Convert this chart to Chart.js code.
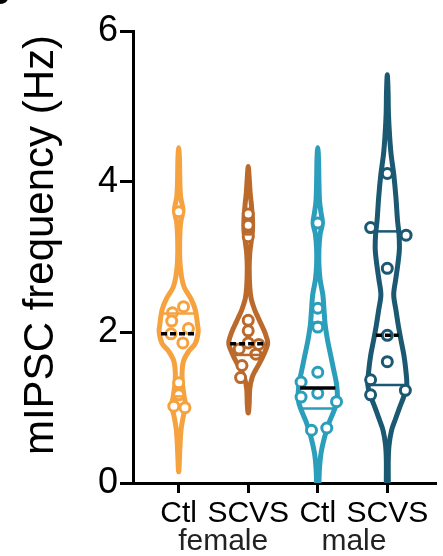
<!DOCTYPE html>
<html>
<head>
<meta charset="utf-8">
<script src="https://cdn.jsdelivr.net/npm/chart.js@4/dist/chart.umd.min.js"></script>
<style>
  html, body { margin: 0; padding: 0; background: #fff; }
  #wrap { width: 443px; height: 556px; position: relative; }
</style>
</head>
<body>
<div id="wrap"><canvas id="c" width="443" height="556"></canvas></div>
<script>
// ---- data ----
const groups = ['Ctl', 'SCVS', 'Ctl', 'SCVS'];
const sexes = ['female', 'male'];
const yTicks = [0, 2, 4, 6];

// mIPSC frequency of each recorded cell (Hz)
const femaleCtl  = [3.60, 2.34, 2.26, 2.15, 2.05, 1.98, 1.86, 1.33, 1.17, 1.02, 1.00];
const femaleScvs = [3.57, 3.42, 3.27, 2.16, 2.02, 1.86, 1.84, 1.78, 1.71, 1.56, 1.40];
const maleCtl    = [3.45, 2.32, 2.07, 1.47, 1.34, 1.19, 1.14, 1.08, 0.73, 0.70];
const maleScvs   = [4.11, 3.39, 3.29, 2.85, 1.96, 1.61, 1.37, 1.23, 1.17];

const medians        = [1.98, 1.85, 1.26, 1.96];
const lowerQuartiles = [1.15, 1.70, 0.99, 1.30];
const upperQuartiles = [2.25, 3.30, 2.13, 3.34];

// kernel density outlines: level (Hz) and relative density (1 = widest)
const femaleCtlLevels  = [4.45, 4.3, 4.0, 3.8, 3.62, 3.45, 3.2, 2.95, 2.75, 2.6, 2.45, 2.3, 2.1, 2.0, 1.85, 1.75, 1.62, 1.45, 1.3, 1.15, 1.02, 0.9, 0.7, 0.45, 0.2, 0.15];
const femaleCtlDensity = [0, 0.04, 0.06, 0.1, 0.22, 0.1, 0.05, 0.06, 0.14, 0.28, 0.62, 0.85, 0.97, 1, 0.85, 0.52, 0.25, 0.17, 0.2, 0.28, 0.36, 0.25, 0.12, 0.06, 0.02, 0];
const femaleScvsLevels  = [4.2, 4.05, 3.85, 3.7, 3.5, 3.35, 3.2, 3.05, 2.85, 2.6, 2.45, 2.3, 2.2, 2.05, 1.95, 1.85, 1.72, 1.6, 1.5, 1.4, 1.25, 1.05, 0.95, 0.93];
const femaleScvsDensity = [0, 0.05, 0.1, 0.16, 0.22, 0.22, 0.15, 0.08, 0.05, 0.08, 0.15, 0.33, 0.5, 0.77, 0.92, 1, 0.82, 0.6, 0.38, 0.2, 0.08, 0.05, 0.02, 0];
const maleCtlLevels  = [4.45, 4.3, 4.0, 3.75, 3.6, 3.45, 3.3, 3.1, 2.9, 2.7, 2.5, 2.3, 2.1, 1.9, 1.7, 1.5, 1.3, 1.1, 0.95, 0.8, 0.6, 0.4, 0.2, 0, -0.3];
const maleCtlDensity = [0, 0.04, 0.06, 0.09, 0.16, 0.24, 0.12, 0.06, 0.06, 0.12, 0.26, 0.32, 0.38, 0.5, 0.66, 0.82, 0.97, 1, 0.82, 0.58, 0.34, 0.17, 0.09, 0.06, 0.04];
const maleScvsLevels  = [5.42, 5.2, 4.9, 4.6, 4.35, 4.1, 3.8, 3.5, 3.3, 3.1, 2.9, 2.7, 2.5, 2.3, 2.1, 1.9, 1.7, 1.5, 1.3, 1.15, 1.0, 0.85, 0.7, 0.5, 0.3, 0, -0.3];
const maleScvsDensity = [0, 0.04, 0.06, 0.12, 0.2, 0.33, 0.44, 0.52, 0.6, 0.62, 0.54, 0.43, 0.33, 0.44, 0.56, 0.7, 0.85, 0.95, 1, 0.85, 0.63, 0.42, 0.22, 0.09, 0.05, 0.05, 0.04];

// horizontal scatter of the dots inside each violin (category units)
const femaleCtlJitter  = [0, 0.07, -0.09, -0.1, 0.14, -0.11, 0.06, 0, 0, -0.07, 0.09];
const femaleScvsJitter = [0, 0, 0, 0, 0, 0, 0.15, -0.13, 0.11, -0.09, -0.11];
const maleCtlJitter    = [0, 0, 0, 0, -0.24, 0, -0.24, 0.27, 0.13, -0.09];
const maleScvsJitter   = [0, -0.24, 0.27, 0, 0, 0, -0.24, 0.26, -0.24];

// ---- styling ----
const FONT = "'Liberation Sans', Arial, Helvetica, sans-serif";
const colors = ['#F6A23F', '#BC6A2C', '#2A9EBA', '#1B5872'];
const medianDash = [[6, 3], [6, 3], [], [6, 3]];
const MAX_HALF = 0.28;         // widest half-width of a violin, in category units
const X_MIN = -0.657, X_MAX = 3.686;

const valueSets  = [femaleCtl, femaleScvs, maleCtl, maleScvs];
const jitterSets = [femaleCtlJitter, femaleScvsJitter, maleCtlJitter, maleScvsJitter];
const outlines = [
  { levels: femaleCtlLevels,  density: femaleCtlDensity },
  { levels: femaleScvsLevels, density: femaleScvsDensity },
  { levels: maleCtlLevels,    density: maleCtlDensity },
  { levels: maleScvsLevels,   density: maleScvsDensity }
];

function halfWidthAt(o, v) {
  const L = o.levels, D = o.density;
  for (let k = 0; k < L.length - 1; k++) {
    if (v <= L[k] && v >= L[k + 1]) {
      const t = (L[k] - v) / (L[k] - L[k + 1]);
      return (D[k] + t * (D[k + 1] - D[k])) * MAX_HALF;
    }
  }
  return 0;
}

function smoothClosed(ctx, pts) {
  const n = pts.length;
  ctx.moveTo(pts[0].x, pts[0].y);
  for (let i = 0; i < n; i++) {
    const p0 = pts[(i - 1 + n) % n], p1 = pts[i], p2 = pts[(i + 1) % n], p3 = pts[(i + 2) % n];
    const c1x = p1.x + (p2.x - p0.x) / 6, c1y = p1.y + (p2.y - p0.y) / 6;
    const c2x = p2.x - (p3.x - p1.x) / 6, c2y = p2.y - (p3.y - p1.y) / 6;
    ctx.bezierCurveTo(c1x, c1y, c2x, c2y, p2.x, p2.y);
  }
  ctx.closePath();
}

const violinPlugin = {
  id: 'violins',
  beforeDatasetsDraw(chart) {
    const { ctx, chartArea: a, scales: { x, y } } = chart;
    ctx.save();
    ctx.beginPath();
    ctx.rect(0, 0, chart.width, a.bottom);
    ctx.clip();
    outlines.forEach((o, i) => {
      const left = [], right = [];
      o.levels.forEach((lv, k) => {
        const hw = o.density[k] * MAX_HALF;
        left.push({ x: x.getPixelForValue(i - hw), y: y.getPixelForValue(lv) });
        right.push({ x: x.getPixelForValue(i + hw), y: y.getPixelForValue(lv) });
      });
      let pts = left.concat(right.reverse());
      // drop coincident tips
      pts = pts.filter((p, k) => {
        const q = pts[(k + 1) % pts.length];
        return Math.abs(p.x - q.x) > 0.01 || Math.abs(p.y - q.y) > 0.01;
      });
      ctx.beginPath();
      smoothClosed(ctx, pts);
      ctx.fillStyle = '#fff';
      ctx.fill();
      ctx.lineWidth = 5;
      ctx.lineJoin = 'round';
      ctx.strokeStyle = colors[i];
      ctx.stroke();
    });
    ctx.restore();
  },
  afterDatasetsDraw(chart) {
    const { ctx, scales: { x, y } } = chart;
    ctx.save();
    outlines.forEach((o, i) => {
      // quartiles
      [lowerQuartiles[i], upperQuartiles[i]].forEach(q => {
        const hw = Math.max(halfWidthAt(o, q) - 0.01, 0);
        const py = y.getPixelForValue(q);
        ctx.beginPath();
        ctx.moveTo(x.getPixelForValue(i - hw), py);
        ctx.lineTo(x.getPixelForValue(i + hw), py);
        ctx.lineWidth = 2.5;
        ctx.strokeStyle = colors[i];
        ctx.setLineDash([]);
        ctx.stroke();
      });
      // median
      const m = medians[i];
      const hw = Math.max(halfWidthAt(o, m) - 0.02, 0);
      const py = y.getPixelForValue(m);
      ctx.beginPath();
      ctx.moveTo(x.getPixelForValue(i - hw), py);
      ctx.lineTo(x.getPixelForValue(i + hw), py);
      ctx.lineWidth = 3.5;
      ctx.strokeStyle = '#000';
      ctx.setLineDash(medianDash[i]);
      ctx.stroke();
    });
    ctx.restore();
  },
  afterDraw(chart) {
    const { ctx, scales: { x } } = chart;
    const o = chart.options.plugins.violins;
    ctx.save();
    // sex labels under the pairs of groups
    ctx.font = '30px ' + FONT;
    ctx.fillStyle = '#222';
    ctx.textAlign = 'center';
    ctx.textBaseline = 'alphabetic';
    sexes.forEach((s, k) => ctx.fillText(s, x.getPixelForValue(o.sexAt[k]), o.sexBaseline));
    // axis title
    ctx.font = o.titleSize + 'px ' + FONT;
    ctx.fillStyle = '#000';
    ctx.translate(o.titleX, o.titleY);
    ctx.rotate(-Math.PI / 2);
    ctx.textBaseline = 'middle';
    ctx.fillText('mIPSC frequency (Hz)', 0, 0);
    ctx.restore();
    // panel letter
    ctx.save();
    ctx.font = 'bold 36px ' + FONT;
    ctx.fillStyle = '#000';
    ctx.textBaseline = 'alphabetic';
    ctx.fillText('B', -16, 4);
    ctx.restore();
  }
};

const datasets = valueSets.map((vals, i) => ({
  data: vals.map((v, k) => ({ x: i + jitterSets[i][k], y: v })),
  pointRadius: 5,
  pointBorderWidth: 3,
  pointBorderColor: colors[i],
  pointBackgroundColor: '#fff',
  showLine: false
}));

new Chart(document.getElementById('c'), {
  type: 'scatter',
  data: { datasets },
  plugins: [violinPlugin],
  options: {
    responsive: false,
    animation: false,
    events: [],
    layout: { padding: { left: 0, right: 6, top: 31, bottom: 0 } },
    plugins: {
      legend: { display: false },
      tooltip: { enabled: false },
      violins: { sexAt: [0.64, 2.52], sexBaseline: 550, titleX: 41, titleY: 245, titleSize: 42 }
    },
    scales: {
      x: {
        type: 'linear', min: X_MIN, max: X_MAX, z: 1,
        afterBuildTicks: s => { s.ticks = groups.map((_, i) => ({ value: i })); },
        afterFit: s => { s.height = 73; },
        ticks: {
          autoSkip: false, maxRotation: 0, minRotation: 0, padding: 3,
          color: '#000', font: { family: FONT, size: 30 },
          callback: v => groups[Math.round(v)]
        },
        grid: { drawOnChartArea: false, drawTicks: true, tickLength: 10, color: '#000', lineWidth: 3 },
        border: { display: true, color: '#000', width: 3 }
      },
      y: {
        min: 0, max: 6, z: 1,
        afterBuildTicks: s => { s.ticks = yTicks.map(v => ({ value: v })); },
        afterFit: s => { s.width = 133; },
        ticks: { color: '#000', font: { family: FONT, size: 36 }, padding: 2 },
        grid: { drawOnChartArea: false, drawTicks: true, tickLength: 13, color: '#000', lineWidth: 3 },
        border: { display: true, color: '#000', width: 3 }
      }
    }
  }
});
</script>
</body>
</html>
